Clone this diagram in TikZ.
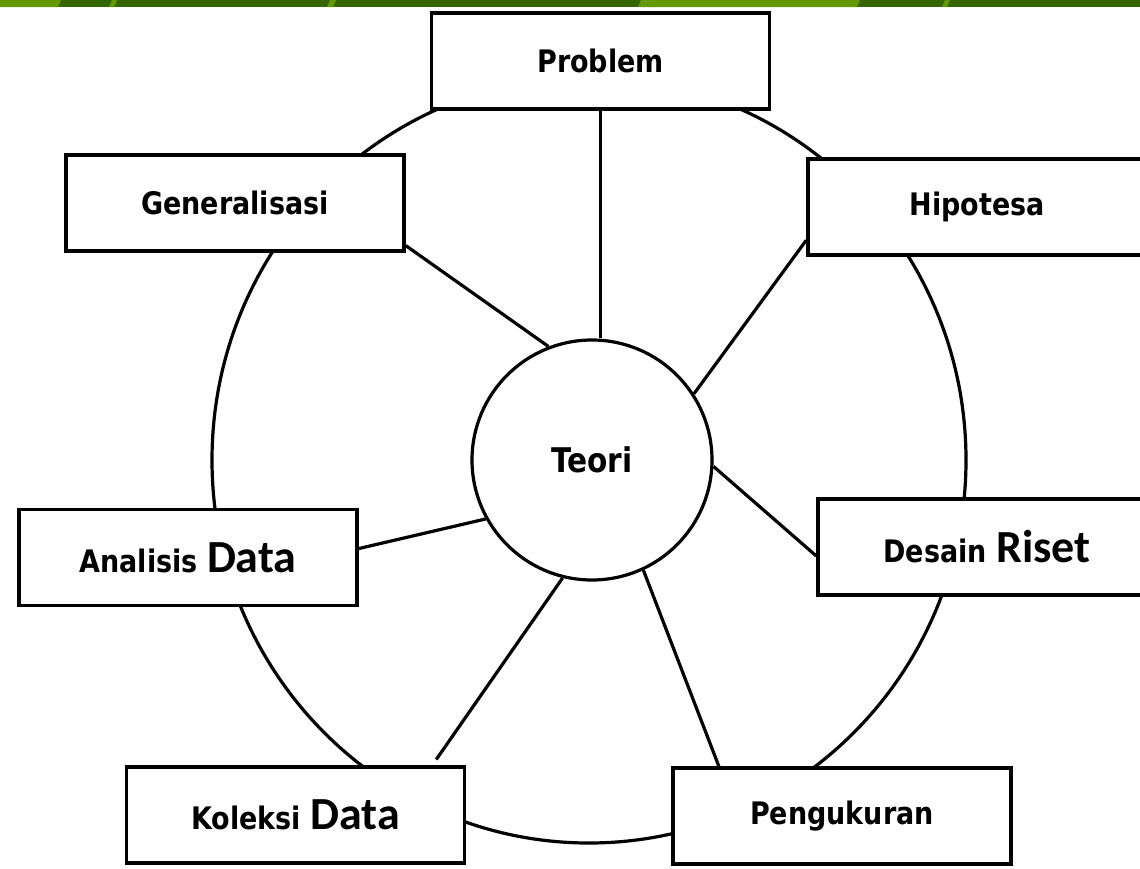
\documentclass[tikz,border=0pt]{standalone}
\usepackage{fontspec}
\setmainfont{DejaVu Sans}[FakeStretch=0.87]
\newfontfamily\wordfont{Carlito}
\definecolor{bardark}{HTML}{336600}
\definecolor{barlight}{HTML}{669900}
\newcommand{\bigword}[1]{{\wordfont\fontsize{46}{48}\selectfont #1}}
\newcommand{\lightbars}{-10/58, 109/114, 327/333, 638/857, 942/947}

\begin{document}
\begin{tikzpicture}[x=1pt,y=-1pt,
  box/.style={draw, line width=3.5pt, fill=white, minimum width=338pt,
    minimum height=96pt, inner sep=0pt, font=\fontsize{31}{33}\selectfont\bfseries},
  spoke/.style={line width=3.2pt}]
  \useasboundingbox (0,0) rectangle (1140,868);
  \clip (0,0) rectangle (1140,868);
  % slide bar on top
  \fill[bardark] (0,0) rectangle (1140,7);
  \foreach \a/\b in \lightbars {
    \fill[barlight] (\a,7) -- (\b,7) -- (\b+3,0) -- (\a+3,0) -- cycle;
  }
  % outer ring
  \draw[line width=3.2pt] (589,460) ellipse [x radius=377, y radius=383];
  % centre and boxes
  \node[circle, draw, line width=3.2pt, fill=white, minimum size=240pt, inner sep=0pt,
    font=\fontsize{34}{36}\selectfont\bfseries] (teori) at (592,460) {Teori};
  \node[box] (prob) at (600.5,61) {Problem};
  \node[box] (gen) at (235,203) {Generalisasi};
  \node[box] (hip) at (977,207) {Hipotesa};
  \node[box] (ana) at (188,557.5) {Analisis \bigword{Data}};
  \node[box] (des) at (987,547) {Desain \bigword{Riset}};
  \node[box] (kol) at (295.5,815) {Koleksi \bigword{Data}};
  \node[box] (pen) at (842,816) {Pengukuran};
  % spokes
  \draw[spoke] (prob.south) -- (prob.south |- teori.north);
  \draw[spoke] (gen.-14) -- (teori.111);
  \draw[spoke] (hip.191) -- (teori.33);
  \draw[spoke] (des.183) -- (teori.-3);
  \draw[spoke] (ana.3) -- (teori.209);
  \draw[spoke, shorten <=7pt] (kol.20) -- (teori.256);
  \draw[spoke] (pen.158) -- (teori.-65);
\end{tikzpicture}
\end{document}
